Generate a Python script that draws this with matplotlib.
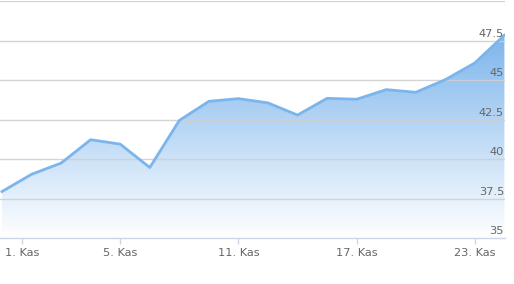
import numpy as np
import matplotlib
matplotlib.use("Agg")
import matplotlib.pyplot as plt
from matplotlib.patches import Polygon

# data
values = [37.96, 39.05, 39.76, 41.24, 40.96, 39.48, 42.46, 43.67, 43.84,
          43.57, 42.80, 43.86, 43.80, 44.41, 44.24, 45.04, 46.10, 47.86]
x_ticks = [0.68, 4, 8, 12, 16]
x_labels = ["1. Kas", "5. Kas", "11. Kas", "17. Kas", "23. Kas"]
y_ticks = [35, 37.5, 40, 42.5, 45, 47.5]
y_labels = ["35", "37.5", "40", "42.5", "45", "47.5"]

x = np.arange(len(values))
y = np.array(values)

W, H = 514, 284
fig = plt.figure(figsize=(W / 100, H / 100), dpi=100)
ax = fig.add_axes([0, 1 - 238.3 / H, 505 / W, (238.3 - 1.3) / H])
ymin, ymax = 35, 50
x0, x1 = -0.068, 17.02
ax.set_xlim(x0, x1)
ax.set_ylim(ymin, ymax)

# gradient fill clipped to area polygon
verts = [(x[0], ymin)] + list(zip(x, y)) + [(x[-1], ymin)]
poly = Polygon(verts, closed=True, facecolor="none", edgecolor="none")
ax.add_patch(poly)
top = np.array([124, 181, 236]) / 255
bot = np.array([255, 255, 255]) / 255
n = 256
t = np.linspace(0, 1, n)[:, None]
grad = top * (1 - t) + bot * t
grad = np.repeat(grad[:, None, :], 2, axis=1)
im = ax.imshow(grad, extent=[x[0], x[-1], ymin, y.max()], aspect="auto",
               origin="upper", zorder=1, interpolation="bilinear")
im.set_clip_path(poly)

ax.plot(x, y, color="#7cb5ec", lw=2, zorder=3, solid_joinstyle="round")

# grid
for yt in y_ticks[1:] + [50]:
    ax.axhline(yt, color="#d0d0d0", lw=1, zorder=2, alpha=0.9)
for s in ["top", "left", "right"]:
    ax.spines[s].set_visible(False)
ax.spines["bottom"].set_color("#ccd6eb")
ax.spines["bottom"].set_linewidth(1)
ax.spines["bottom"].set_zorder(4)

ax.set_xticks(x_ticks)
ax.set_xticklabels(x_labels, fontsize=8.2, color="#666666", family="DejaVu Sans")
ax.tick_params(axis="x", length=4, color="#ccd6eb", width=1, pad=3)
ax.set_yticks([])

for yt, lab in zip(y_ticks, y_labels):
    ax.text(x1 - 0.03, yt + 0.12, lab, ha="right", va="bottom", fontsize=8.2,
            color="#666666", zorder=5)

fig.savefig("out.png", dpi=100)
